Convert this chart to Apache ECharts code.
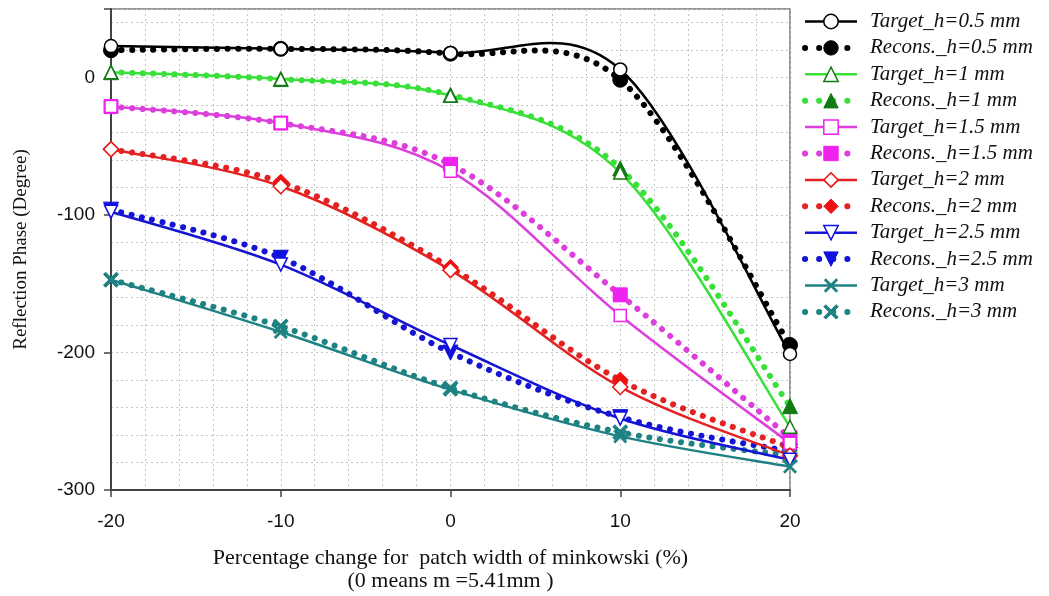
<!DOCTYPE html>
<html>
<head>
<meta charset="utf-8">
<script src="https://cdn.jsdelivr.net/npm/echarts@6/dist/echarts.min.js"></script>
<style>html,body{margin:0;padding:0;background:#fff;}#c{width:1049px;height:596px;}</style>
</head>
<body>
<div id="c"></div>
<script>
// ---- data ----
const xValues = [-20, -10, 0, 10, 20];
const yTickLabels = [0, -100, -200, -300];
const xTickLabels = [-20, -10, 0, 10, 20];

const target_h05 = [23, 21, 18, 6, -201];
const recons_h05 = [20, 21, 17.5, -1.5, -194.5];
const target_h1 = [4, -1, -13, -69, -254];
const recons_h1 = [4, -1, -12.5, -66, -239];
const target_h15 = [-21, -33, -68, -173, -266];
const recons_h15 = [-21, -33, -63, -158, -262];
const target_h2 = [-52, -79, -140, -225, -275];
const recons_h2 = [-52, -76, -138, -220, -269];
const target_h25 = [-97.5, -136, -194.5, -248, -278];
const recons_h25 = [-96, -131, -200, -247, -272];
const target_h3 = [-147, -185, -227, -261, -283];
const recons_h3 = [-147, -181, -226, -258, -275];

const seriesNames = [
  'Target_h=0.5 mm','Recons._h=0.5 mm','Target_h=1 mm','Recons._h=1 mm',
  'Target_h=1.5 mm','Recons._h=1.5 mm','Target_h=2 mm','Recons._h=2 mm',
  'Target_h=2.5 mm','Recons._h=2.5 mm','Target_h=3 mm','Recons._h=3 mm'
];

// ---- styles ----
const INV_TRI = 'path://M0,0L10,0L5,10Z';
const XMARK = 'path://M0,1.4L1.4,0L5,3.6L8.6,0L10,1.4L6.4,5L10,8.6L8.6,10L5,6.4L1.4,10L0,8.6L3.6,5Z';
const groups = [
  {t: target_h05, r: recons_h05, line: '#000000', mark: '#000000', sym: 'circle', tSize: 13, rSize: 15},
  {t: target_h1, r: recons_h1, line: '#38e038', mark: '#127a12', sym: 'triangle', tSize: 13, rSize: 15},
  {t: target_h15, r: recons_h15, line: '#dd3fdd', mark: '#ee22ee', sym: 'rect', tSize: 12, rSize: 14},
  {t: target_h2, r: recons_h2, line: '#e32222', mark: '#ee1111', sym: 'diamond', tSize: 15, rSize: 16},
  {t: target_h25, r: recons_h25, line: '#1414d2', mark: '#1010e0', sym: INV_TRI, tSize: 13, rSize: 15},
  {t: target_h3, r: recons_h3, line: '#1f8282', mark: '#1f8282', sym: XMARK, tSize: 14, rSize: 15}
];
const DOT = [0.1, 10.5];
const solidLine = g => ({color: g.line, width: 2.5, type: 'solid', cap: 'butt', opacity: 1});
const dotLine = g => ({color: g.line, width: 6, type: [0.1, 14], cap: 'round', opacity: 1});

// smooth curve (spline-style bezier, like spreadsheet "smoothed line") drawn through the axis scales
function curveSeries(values, g, dotted) {
  return {
    type: 'custom',
    silent: true,
    z: dotted ? 1 : 2,
    data: xValues.map((x, k) => [x, values[k]]),
    renderItem: function (params, api) {
      if (params.dataIndex !== 0) return null;
      const p = xValues.map((x, k) => api.coord([x, values[k]]));
      const n = p.length;
      let d = 'M' + p[0][0] + ',' + p[0][1];
      for (let i = 0; i < n - 1; i++) {
        const a = p[Math.max(i - 1, 0)], b = p[i], c = p[i + 1], e = p[Math.min(i + 2, n - 1)];
        const c1x = b[0] + (c[0] - a[0]) / 6, c1y = b[1] + (c[1] - a[1]) / 6;
        const c2x = c[0] - (e[0] - b[0]) / 6, c2y = c[1] - (e[1] - b[1]) / 6;
        d += ' C' + c1x + ',' + c1y + ' ' + c2x + ',' + c2y + ' ' + c[0] + ',' + c[1];
      }
      return {
        type: 'path',
        shape: {pathData: d},
        style: dotted
          ? {fill: null, stroke: g.line, lineWidth: 6, lineDash: DOT, lineCap: 'round'}
          : {fill: null, stroke: g.line, lineWidth: 2.5}
      };
    }
  };
}

const series = [];
const legendData = [];
groups.forEach((g, i) => {
  const isX = g.sym === XMARK;
  const tItem = isX ? {color: g.mark, borderColor: g.mark, borderWidth: 0}
                    : {color: '#ffffff', borderColor: g.mark, borderWidth: 1.5};
  const rItem = {color: g.mark, borderColor: g.mark, borderWidth: 1};
  series.push(curveSeries(g.r, g, true));
  series.push(curveSeries(g.t, g, false));
  series.push({
    name: seriesNames[2 * i + 1], type: 'line',
    data: xValues.map((x, k) => [x, g.r[k]]),
    symbol: g.sym, symbolSize: g.rSize, z: 3,
    lineStyle: {opacity: 0, width: 0},
    itemStyle: rItem, emphasis: {disabled: true}
  });
  series.push({
    name: seriesNames[2 * i], type: 'line',
    data: xValues.map((x, k) => [x, g.t[k]]),
    symbol: g.sym, symbolSize: g.tSize, z: 4,
    lineStyle: {opacity: 0, width: 0},
    itemStyle: tItem, emphasis: {disabled: true}
  });
  legendData.push({name: seriesNames[2 * i], lineStyle: solidLine(g), itemStyle: tItem});
  legendData.push({name: seriesNames[2 * i + 1], lineStyle: dotLine(g), itemStyle: rItem});
});

const chart = echarts.init(document.getElementById('c'), null, {renderer: 'canvas'});
const gridStyle = {color: '#c4c4c4', width: 1, type: [2, 3]};
chart.setOption({
  animation: false,
  backgroundColor: '#ffffff',
  grid: {left: 111, right: 259, top: 9, bottom: 106, show: true, borderColor: '#777', borderWidth: 1.5,
         backgroundColor: 'transparent', containLabel: false, outerBoundsMode: 'none'},
  legend: {
    data: legendData,
    orient: 'vertical',
    left: 802,
    top: 11,
    padding: 0,
    itemWidth: 52,
    itemHeight: 18,
    itemGap: 5.4,
    textStyle: {fontFamily: 'Liberation Serif', fontStyle: 'italic', fontSize: 21, lineHeight: 18, color: '#111', padding: [0, 0, 0, 8]},
    selectedMode: false
  },
  xAxis: {
    type: 'value',
    min: -20, max: 20, interval: 10,
    name: 'Percentage change for  patch width of minkowski (%)\n(0 means m =5.41mm )',
    nameLocation: 'middle',
    nameGap: 57,
    nameTextStyle: {fontFamily: 'Liberation Serif', fontSize: 22, lineHeight: 23, color: '#111'},
    axisLine: {onZero: false, lineStyle: {color: '#444', width: 2}},
    axisTick: {show: true, length: 7, inside: false, lineStyle: {color: '#444', width: 1.5}},
    axisLabel: {fontFamily: 'Liberation Sans', fontSize: 19, color: '#111', margin: 22,
      formatter: v => (xTickLabels.indexOf(v) >= 0 ? String(v) : '')},
    splitLine: {show: true, lineStyle: gridStyle},
    minorTick: {show: false, splitNumber: 5},
    minorSplitLine: {show: true, lineStyle: gridStyle}
  },
  yAxis: [{
    type: 'value',
    position: 'left',
    min: -300, max: 50, interval: 20,
    name: 'Reflection Phase (Degree)',
    nameLocation: 'middle',
    nameGap: 80,
    nameTextStyle: {fontFamily: 'Liberation Serif', fontSize: 19, color: '#111'},
    axisLine: {show: true, onZero: false, lineStyle: {color: '#444', width: 2}},
    axisTick: {show: false},
    axisLabel: {fontFamily: 'Liberation Sans', fontSize: 19, color: '#111', margin: 16,
      formatter: v => (yTickLabels.indexOf(v) >= 0 ? String(v) : '')},
    splitLine: {show: true, lineStyle: gridStyle}
  }, {
    type: 'value',
    position: 'left',
    min: -300, max: 50, interval: 100,
    axisLine: {show: false, onZero: false},
    axisTick: {show: true, length: 7, lineStyle: {color: '#444', width: 1.5}},
    axisLabel: {show: false},
    splitLine: {show: false}
  }],
  series: series
});
</script>
</body>
</html>
